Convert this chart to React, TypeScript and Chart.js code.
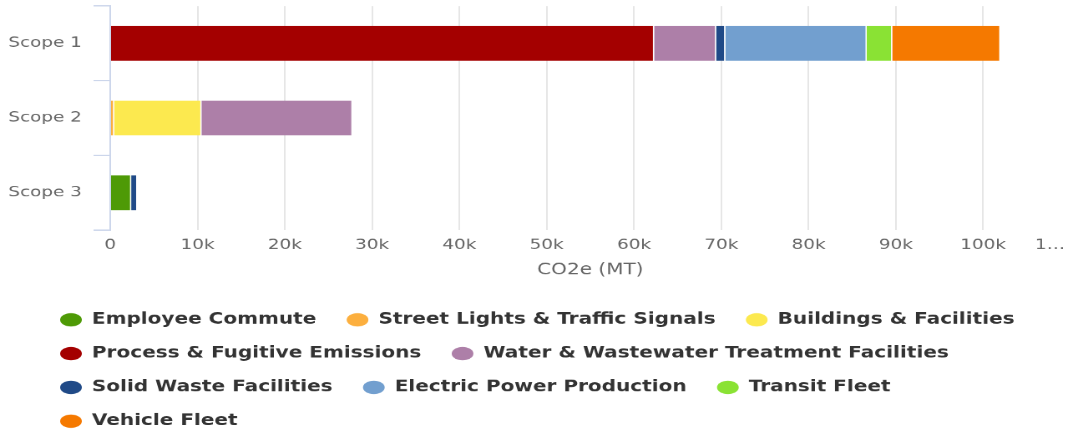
import React, { useEffect, useRef } from 'react';
import { Chart, registerables } from 'chart.js';

Chart.register(...registerables);

// ---------- data ----------
const categories = ['Scope 1', 'Scope 2', 'Scope 3'];

const seriesNames = [
  'Employee Commute',
  'Street Lights & Traffic Signals',
  'Buildings & Facilities',
  'Process & Fugitive Emissions',
  'Water & Wastewater Treatment Facilities',
  'Solid Waste Facilities',
  'Electric Power Production',
  'Transit Fleet',
  'Vehicle Fleet',
];

const seriesColors = [
  '#4e9a06',
  '#fcaf3e',
  '#fce94f',
  '#a40000',
  '#ad7fa8',
  '#204a87',
  '#729fcf',
  '#8ae234',
  '#f57900',
];

const employeeCommute = [0, 0, 2400];
const streetLights = [0, 450, 0];
const buildingsFacilities = [0, 10000, 0];
const processFugitive = [62300, 0, 0];
const waterWastewater = [7100, 17300, 0];
const solidWaste = [1050, 0, 700];
const electricPower = [16200, 0, 0];
const transitFleet = [2920, 0, 0];
const vehicleFleet = [12400, 0, 0];

const seriesData = [
  employeeCommute,
  streetLights,
  buildingsFacilities,
  processFugitive,
  waterWastewater,
  solidWaste,
  electricPower,
  transitFleet,
  vehicleFleet,
];

const xTickLabels = ['0', '10k', '20k', '30k', '40k', '50k', '60k', '70k', '80k', '90k', '100k', '1…'];
const xAxisTitle = 'CO2e (MT)';
const xMax = 110000;
const xStep = 10000;

// ---------- layout (base chart is rendered small then stretched like the reference) ----------
const SX = 1.67;
const SY = 1.3;
const W = 680;
const H = 340;
const PLOT_RIGHT = 641;
const FONT = "'DejaVu Sans', Verdana, sans-serif";

export default function App() {
  const ref = useRef<HTMLCanvasElement>(null);

  useEffect(() => {
    if (!ref.current) return;
    const chart = new Chart(ref.current, {
      type: 'bar',
      data: {
        labels: categories,
        datasets: seriesNames.map((name, i) => ({
          label: name,
          data: seriesData[i],
          backgroundColor: seriesColors[i],
          borderColor: '#ffffff',
          borderWidth: { top: 0, right: 0.7, bottom: 0, left: 0 },
          borderSkipped: false,
          categoryPercentage: 1,
          barPercentage: 0.47,
        })),
      },
      options: {
        indexAxis: 'y',
        animation: false,
        responsive: false,
        devicePixelRatio: 2,
        layout: { padding: { left: 22, top: 4.6, right: 38, bottom: 0 } },
        scales: {
          x: {
            stacked: true,
            min: 0,
            max: xMax,
            afterBuildTicks: (scale: any) => {
              const t = [];
              for (let v = 0; v <= xMax; v += xStep) t.push({ value: v });
              scale.ticks = t;
            },
            afterFit: (scale: any) => {
              scale.height = 49;
              scale.paddingRight = W - PLOT_RIGHT;
              scale.paddingLeft = 0;
            },
            ticks: {
              autoSkip: false,
              maxRotation: 0,
              minRotation: 0,
              padding: 5,
              color: '#666666',
              font: { family: FONT, size: 11 },
              callback: (_v: any, i: number) =>
                i === xTickLabels.length - 1 ? xTickLabels[i] + '       ' : xTickLabels[i],
            },
            grid: { color: '#e6e6e6', lineWidth: 1, drawTicks: false },
            border: { display: false },
            title: {
              display: true,
              text: xAxisTitle,
              color: '#666666',
              font: { family: FONT, size: 12 },
              padding: { top: 0, bottom: 11 },
            },
          },
          y: {
            stacked: true,
            afterFit: (scale: any) => {
              scale.width = 44;
              scale.paddingTop = 0;
              scale.paddingBottom = 0;
              scale._computeLabelArea = () => undefined;
            },
            ticks: {
              padding: 7,
              color: '#666666',
              font: { family: FONT, size: 11 },
            },
            grid: {
              offset: true,
              drawOnChartArea: false,
              drawTicks: true,
              tickLength: 10,
              tickColor: '#ccd6eb',
              color: '#ccd6eb',
            },
            border: { display: true, color: '#ccd6eb', width: 1 },
          },
        },
        plugins: {
          tooltip: { enabled: false },
          legend: {
            position: 'bottom',
            align: 'start',
            labels: {
              usePointStyle: true,
              pointStyle: 'circle',
              pointStyleWidth: 13,
              boxHeight: 7.2,
              padding: 14,
              color: '#333333',
              font: { family: FONT, size: 12, weight: 'bold' },
              generateLabels: (c: any) =>
                (Chart.defaults.plugins.legend.labels.generateLabels as any)(c).map((l: any) => ({
                  ...l,
                  text: l.text + ' ',
                  lineWidth: 0,
                  strokeStyle: l.fillStyle,
                })),
            },
          },
        },
      } as any,
    });
    return () => chart.destroy();
  }, []);

  return (
    <div
      style={{
        position: 'fixed',
        left: 0,
        top: 0,
        width: 1069,
        height: 433,
        overflow: 'hidden',
        background: '#ffffff',
      }}
    >
      <div style={{ width: W, height: H, transform: `scale(${SX}, ${SY})`, transformOrigin: '0 0' }}>
        <canvas ref={ref} width={W} height={H} style={{ display: 'block', width: W, height: H }} />
      </div>
    </div>
  );
}
